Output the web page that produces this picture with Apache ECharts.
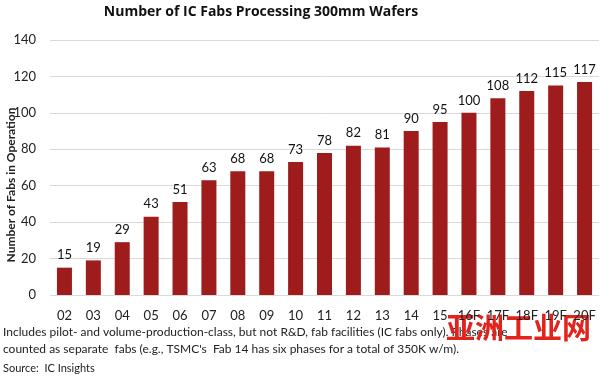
<!DOCTYPE html>
<html><head><meta charset="utf-8">
<script src="https://cdn.jsdelivr.net/npm/echarts@6/dist/echarts.min.js"></script>
<style>html,body{margin:0;padding:0;background:#fff}#c{width:600px;height:379px}</style>
</head><body><div id="c"></div>
<script>
const categories = ['02','03','04','05','06','07','08','09','10','11','12','13','14','15','16F','17F','18F','19F','20F'];
const fabs = [15,19,29,43,51,63,68,68,73,78,82,81,90,95,100,108,112,115,117];
const yTicks = {min:0, max:140, interval:20};
const FONT = 'Lato, "Open Sans", sans-serif';
const chart = echarts.init(document.getElementById('c'));
chart.setOption({
  animation:false,
  title:{text:'Number of IC Fabs Processing 300mm Wafers', left:256, textAlign:'center', top:0,
    textStyle:{fontFamily:'"Open Sans", sans-serif', fontWeight:'bold', fontSize:14, color:'#111'}},
  grid:{left:50, right:1, top:40, bottom:84},
  xAxis:{type:'category', data:categories,
    axisLine:{show:false}, axisTick:{show:false},
    axisLabel:{fontFamily:FONT, fontSize:13, color:'#222', margin:14, interval:0}},
  yAxis:{type:'value', min:yTicks.min, max:yTicks.max, interval:yTicks.interval,
    axisLabel:{fontFamily:FONT, fontSize:13, color:'#222', margin:14},
    splitLine:{lineStyle:{color:'#d9d9d9', width:1}}},
  series:[{type:'bar', data:fabs, barWidth:15,
    itemStyle:{color:'#9e1c1c'},
    label:{show:true, position:'top', distance:6, fontFamily:FONT, fontSize:13, color:'#111'}}],
  graphic:[
    {type:'text', x:11, y:185, rotation:Math.PI/2, style:{text:'Number of Fabs in Operation', fontFamily:FONT, fontWeight:'bold', fontSize:12, fill:'#222', align:'center', verticalAlign:'middle'}},
    {type:'text', left:3, top:326, style:{text:'Includes pilot- and volume-production-class, but not R&D, fab facilities (IC fabs only). Phases are', fontFamily:FONT, fontSize:12, fill:'#222'}},
    {type:'text', left:3, top:343, style:{text:"counted as separate  fabs (e.g., TSMC's  Fab 14 has six phases for a total of 350K w/m).", fontFamily:FONT, fontSize:12, fill:'#222'}},
    {type:'text', left:3, top:363, style:{text:'Source:  IC Insights', fontFamily:FONT, fontSize:11, fill:'#222'}},
    {type:'text', left:446, top:313, style:{text:'亚洲工业网', fontFamily:'"Noto Sans CJK SC"', fontWeight:'bold', fontSize:29, fill:'#e3221b'}}
  ]
});
</script></body></html>
